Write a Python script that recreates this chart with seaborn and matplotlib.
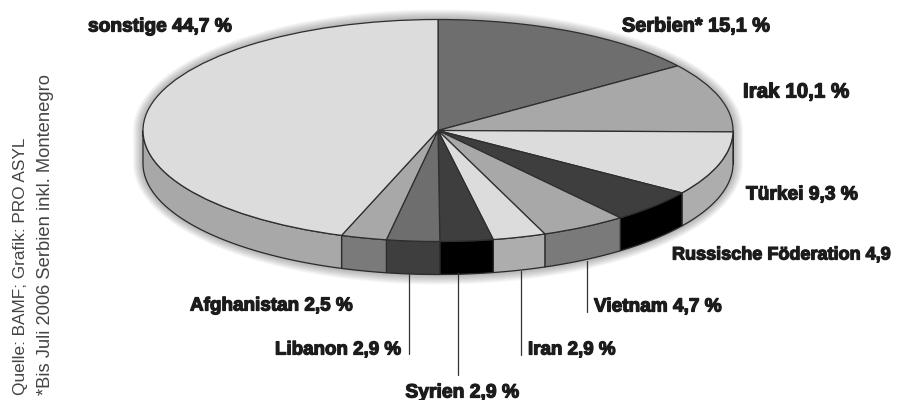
import matplotlib
matplotlib.use('Agg')
import matplotlib.pyplot as plt
import matplotlib.patheffects as pe
import numpy as np
import seaborn as sns

# shares in percent, clockwise from 12 o'clock
countries = ['Serbien*', 'Irak', 'Türkei', 'Russische Föderation', 'Vietnam',
             'Iran', 'Syrien', 'Libanon', 'Afghanistan', 'sonstige']
shares = [15.1, 10.1, 9.3, 4.9, 4.7, 2.9, 2.9, 2.9, 2.5, 44.7]
units = [' %', ' %', ' %', '', ' %', ' %', ' %', ' %', ' %', ' %']
top_greys = ['#6e6e6e', '#a8a8a8', '#dcdcdc', '#3e3e3e', '#a8a8a8',
             '#dcdcdc', '#3e3e3e', '#6e6e6e', '#a8a8a8', '#dcdcdc']
side_greys = ['#3e3e3e', '#6e6e6e', '#adadad', '#000000', '#7a7a7a',
              '#adadad', '#000000', '#3e3e3e', '#7a7a7a', '#a8a8a8']
source_lines = ['Quelle: BAMF; Grafik: PRO ASYL', '*Bis Juli 2006 Serbien inkl. Montenegro']

# layout in pixels of the 904x400 picture
W, H = 904, 400
CX, CY, RX, RY = 438, 130.5, 295, 111
DEPTH = 33 / RY
label_pos = {
    'Serbien*': (622, 26, 'left', 14.3), 'Irak': (743, 92, 'left', 14.8), 'Türkei': (746, 195, 'left', 13.8),
    'Russische Föderation': (672, 255, 'left', 13), 'Vietnam': (594, 307, 'left', 13.7),
    'Iran': (528, 350, 'left', 13.5), 'Syrien': (462, 393, 'center', 13.9), 'Libanon': (401, 350, 'right', 13.5),
    'Afghanistan': (190, 306, 'left', 13.6), 'sonstige': (88, 27, 'left', 13.8),
}
leaders = [(409.5, 272, 354), (458, 273, 375), (521, 271, 355), (587, 261, 312)]

sns.set_theme(style='white')
plt.rcParams['font.family'] = ['Liberation Sans Narrow', 'Liberation Sans']

fig = plt.figure(figsize=(W / 100, H / 100), dpi=100, facecolor='white')
ax = fig.add_axes([0, 0, 1, 1])

# soft shadow round the whole cake
t = np.linspace(0, 2 * np.pi, 361)
for e in np.linspace(10, 1, 9):
    sx = np.sin(t) * (RX + e) / RX
    cy = np.cos(t) * (RY + e) / RY
    ax.fill(sx, cy - np.where(np.cos(t) < 0, DEPTH, 0), color='black', alpha=0.035, lw=0, zorder=1)

# side wall, only the front half can be seen
edges = np.cumsum([0] + shares) / sum(shares) * 360
for i, col in enumerate(side_greys):
    a0, a1 = max(edges[i], 90), min(edges[i + 1], 270)
    if a1 <= a0:
        continue
    th = np.radians(np.linspace(a0, a1, 80))
    x = np.sin(th)
    y = np.cos(th)
    ax.fill(np.r_[x, x[::-1]], np.r_[y, y[::-1] - DEPTH], facecolor=col,
            edgecolor='#2a2a2a', lw=0.9, zorder=2)

ax.pie(shares, colors=top_greys, startangle=90, counterclock=False, radius=1,
       wedgeprops={'edgecolor': '#2e2e2e', 'linewidth': 0.9, 'zorder': 3})
ax.set_aspect('auto')
ax.set_xlim(-CX / RX, (W - CX) / RX)
ax.set_ylim(-(H - CY) / RY, CY / RY)
ax.axis('off')

# labels and leader lines live on a pixel overlay
lab = fig.add_axes([0, 0, 1, 1], facecolor='none')
lab.set_xlim(0, W)
lab.set_ylim(H, 0)
lab.axis('off')
for name, val, unit in zip(countries, shares, units):
    px, py, ha, size = label_pos[name]
    txt = f'{name} {str(val).replace(".", ",")}{unit}'
    lab.text(px, py, txt, ha=ha, va='center', fontsize=size, fontweight='bold', color='#1c1c1c',
             path_effects=[pe.withStroke(linewidth=0.9, foreground='#1c1c1c')])
for lx, y0, y1 in leaders:
    lab.plot([lx, lx], [y0, y1], color='#333333', lw=0.9)

lab.text(21, 395, source_lines[0], rotation=90, ha='center', va='bottom', fontsize=12.4,
         family=['Liberation Sans'], color='#444444')
lab.text(46, 395, source_lines[1], rotation=90, ha='center', va='bottom', fontsize=13.2,
         family=['Liberation Sans'], color='#444444')

fig.savefig('out.png', dpi=100, facecolor='white')
